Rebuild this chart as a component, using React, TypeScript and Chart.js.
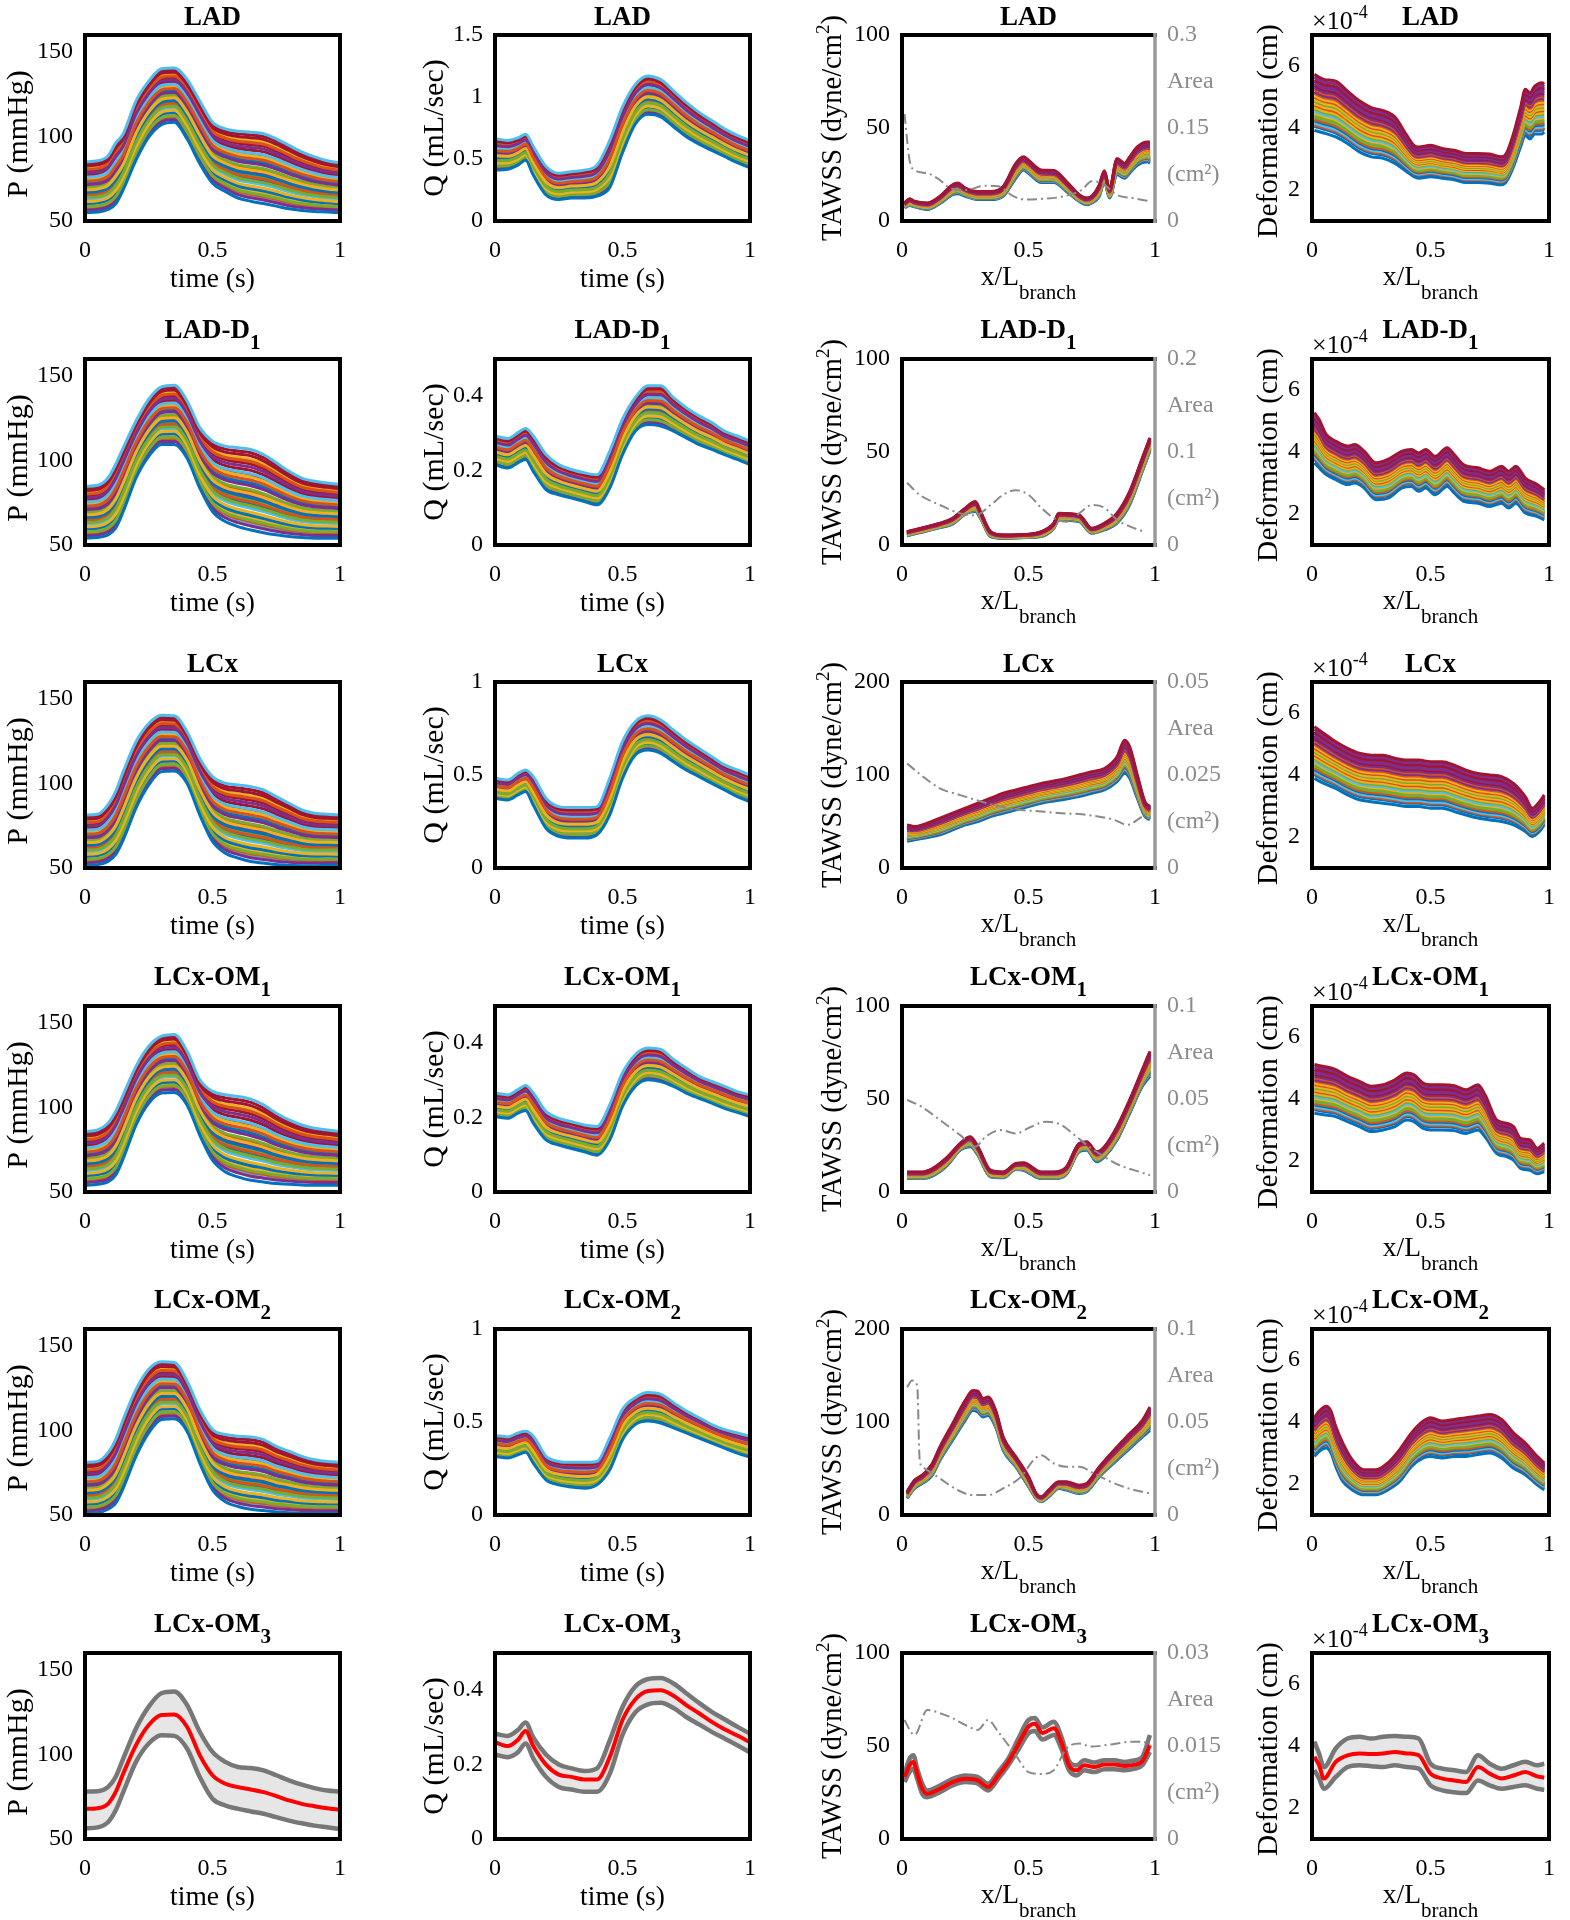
import React, { useEffect, useRef } from 'react';
import { Chart, registerables } from 'chart.js';

Chart.register(...registerables);

const FONT = '"Liberation Serif", "Times New Roman", Times, serif';
const PALETTE = ['#0072BD', '#D95319', '#EDB120', '#7E2F8E', '#77AC30', '#4DBEEE', '#A2142F'];

// ---------- shared grids / tick values ----------
const T = [0, 0.05, 0.09, 0.12, 0.15, 0.2, 0.25, 0.3, 0.35, 0.4, 0.45, 0.5, 0.55, 0.6, 0.65, 0.7, 0.75, 0.8, 0.85, 0.9, 0.95, 1];
const X_TICKS = [0, 0.5, 1];
const P_TICKS = [50, 100, 150];
const D_TICKS = [2, 4, 6];

// ensemble line ordering
const MIXED_LEVELS = [0, 0.62, 0.45, 0.78, 0.3, 1.0, 0.92, 0.4, 0.85, 0.22, 0.55, 0.12, 0.7, 0.82, 0.18, 0.35, 0.66, 0.05, 0.5, 0.27, 0.74, 0.58, 0.1, 0.88, 0.42, 0.2, 0.6, 0.96, 0.33, 0.48, 0.15, 0.86, 0.38, 0.08, 0.68];
const MIXED_COLORS = [0, 1, 2, 3, 4, 5, 6, 0, 1, 2, 3, 4, 5, 6, 0, 1, 2, 3, 4, 5, 6, 0, 1, 2, 3, 4, 5, 6, 0, 1, 2, 3, 4, 5, 6];
const SORTED_LEVELS = [0, 0.07, 0.1, 0.13, 0.17, 0.2, 0.24, 0.27, 0.31, 0.34, 0.38, 0.41, 0.45, 0.48, 0.52, 0.55, 0.59, 0.62, 0.66, 0.69, 0.73, 0.76, 0.8, 0.83, 0.87, 0.9, 0.95, 1];
const SORTED_COLORS = [0, 0, 1, 5, 0, 1, 4, 4, 2, 5, 4, 2, 1, 2, 4, 2, 1, 2, 1, 3, 1, 3, 6, 3, 3, 6, 3, 6];

// ---------- Pressure (mmHg) ----------
const P_LAD_HI = [85, 85.6, 88.5, 96, 101.6, 121, 132.7, 140, 140.5, 133.7, 121, 108.4, 104.5, 103.1, 102.5, 101.6, 98.6, 94.7, 90.9, 87.9, 85.6, 84.4];
const P_LAD_LO = [54.9, 55.3, 56.8, 60, 68.5, 86, 99.6, 107, 108.4, 98.6, 84, 72.4, 67.5, 63.6, 61.7, 60.3, 58.8, 57.2, 56.2, 55.6, 55.3, 54.9];
const P_D1_HI = [84.7, 85.3, 89.6, 97.6, 107.5, 123.3, 136.2, 143.5, 144.5, 135.2, 119.4, 111.4, 108.5, 107.5, 106.5, 103.5, 98.6, 93.6, 89.6, 87.7, 86.7, 85.7];
const P_D1_LO = [54, 54.4, 56, 59.9, 69.8, 89.6, 102.5, 109.5, 109.5, 101.5, 83.7, 69.8, 63.9, 60.9, 58.9, 57.3, 56, 55, 54.4, 54, 54, 54];
const P_LCX_HI = [81.4, 81.8, 87.3, 95.2, 107, 124.7, 135.5, 140.4, 140, 130.6, 114.8, 104, 100.1, 99.1, 98.1, 96.2, 92.2, 88.3, 84.4, 82.4, 81.8, 81.4];
const P_LCX_LO = [51.6, 52, 53.9, 57.9, 66.7, 85.4, 99.1, 107, 107.4, 100.1, 81.4, 65.7, 58.8, 55.9, 53.9, 52.9, 52, 51.6, 51.4, 51.4, 51.6, 51.6];
const P_OM1_HI = [85.7, 86.7, 90.6, 97.6, 107.5, 124.3, 136.2, 142.2, 143.2, 133.3, 116.4, 109.5, 107.5, 106.5, 104.9, 101.5, 96.6, 92.6, 89.6, 87.7, 86.7, 85.7];
const P_OM1_LO = [54, 54.6, 55.9, 59.9, 69.8, 89.6, 102.5, 108.5, 108.9, 101.5, 83.7, 68.8, 61.9, 58.9, 56.9, 55.9, 55, 54.6, 54.2, 54, 54, 54];
const P_OM2_HI = [81.1, 81.7, 86.7, 94.6, 106.5, 124.3, 136.2, 140.6, 140.2, 129.3, 112.4, 100.5, 97.6, 96.6, 96.2, 94.6, 90.6, 87.7, 84.7, 82.7, 81.7, 81.1];
const P_OM2_LO = [51, 51.4, 53.4, 56.9, 65.9, 84.7, 98.6, 106.5, 106.9, 99.6, 80.7, 64.9, 57.9, 55, 53.4, 52.6, 51.8, 51.4, 51, 51, 51, 51];
const P_OM3_UP = [78.1, 78.3, 80.7, 86.7, 97.6, 115.4, 128.3, 136.2, 137.2, 129.3, 113.4, 101.5, 95.6, 92.6, 92, 90.6, 87.7, 84.7, 82.1, 80.1, 78.7, 78.1];
const P_OM3_MEAN = [67.8, 68.2, 70.8, 77.7, 88.7, 105.5, 117.4, 123.3, 123.7, 116.4, 99.6, 87.7, 82.7, 80.7, 79.3, 77.7, 75.4, 72.8, 70.8, 69.4, 68.2, 67.4];
const P_OM3_LOW = [56.3, 56.9, 59.9, 66.8, 77.7, 95.6, 106.5, 111.4, 111, 103.5, 86.7, 73.8, 69.8, 67.8, 66.3, 64.9, 62.9, 60.9, 59.3, 57.9, 56.9, 55.9];

// ---------- Flow (mL/sec) ----------
const Q_LAD_HI = [0.664, 0.65, 0.67, 0.7, 0.6, 0.44, 0.385, 0.398, 0.41, 0.45, 0.65, 0.92, 1.1, 1.17, 1.14, 1.05, 0.956, 0.876, 0.81, 0.743, 0.69, 0.65];
const Q_LAD_LO = [0.41, 0.417, 0.45, 0.49, 0.37, 0.21, 0.173, 0.186, 0.186, 0.2, 0.27, 0.55, 0.78, 0.86, 0.84, 0.76, 0.68, 0.62, 0.57, 0.52, 0.47, 0.43];
const Q_D1_HI = [0.293, 0.286, 0.302, 0.313, 0.293, 0.243, 0.216, 0.203, 0.194, 0.189, 0.252, 0.338, 0.396, 0.428, 0.428, 0.396, 0.369, 0.347, 0.329, 0.306, 0.293, 0.279];
const Q_D1_LO = [0.216, 0.207, 0.221, 0.23, 0.198, 0.149, 0.135, 0.126, 0.117, 0.108, 0.153, 0.243, 0.306, 0.324, 0.32, 0.306, 0.288, 0.27, 0.257, 0.243, 0.23, 0.216];
const Q_LCX_HI = [0.482, 0.473, 0.509, 0.527, 0.491, 0.375, 0.33, 0.325, 0.325, 0.33, 0.482, 0.679, 0.786, 0.818, 0.795, 0.741, 0.688, 0.643, 0.598, 0.554, 0.527, 0.5];
const Q_LCX_LO = [0.375, 0.366, 0.393, 0.411, 0.339, 0.214, 0.17, 0.161, 0.161, 0.179, 0.286, 0.482, 0.607, 0.634, 0.616, 0.571, 0.527, 0.491, 0.455, 0.42, 0.384, 0.357];
const Q_OM1_HI = [0.266, 0.261, 0.275, 0.286, 0.266, 0.216, 0.198, 0.189, 0.18, 0.176, 0.234, 0.32, 0.369, 0.387, 0.383, 0.356, 0.333, 0.311, 0.297, 0.284, 0.27, 0.261];
const Q_OM1_LO = [0.203, 0.198, 0.212, 0.219, 0.185, 0.14, 0.126, 0.117, 0.108, 0.099, 0.14, 0.23, 0.284, 0.302, 0.297, 0.284, 0.266, 0.252, 0.239, 0.225, 0.214, 0.203];
const Q_OM2_HI = [0.427, 0.42, 0.441, 0.45, 0.423, 0.315, 0.288, 0.283, 0.283, 0.288, 0.414, 0.568, 0.631, 0.658, 0.649, 0.604, 0.559, 0.523, 0.486, 0.459, 0.441, 0.423];
const Q_OM2_LO = [0.315, 0.306, 0.324, 0.337, 0.279, 0.189, 0.162, 0.15, 0.144, 0.162, 0.243, 0.405, 0.486, 0.505, 0.495, 0.468, 0.441, 0.414, 0.387, 0.36, 0.333, 0.312];
const Q_OM3_UP = [0.283, 0.277, 0.293, 0.313, 0.273, 0.227, 0.2, 0.19, 0.183, 0.19, 0.265, 0.355, 0.41, 0.43, 0.433, 0.418, 0.392, 0.366, 0.342, 0.322, 0.302, 0.283];
const Q_OM3_MEAN = [0.26, 0.25, 0.267, 0.29, 0.25, 0.2, 0.173, 0.167, 0.16, 0.16, 0.22, 0.32, 0.375, 0.398, 0.4, 0.385, 0.36, 0.338, 0.315, 0.295, 0.278, 0.26];
const Q_OM3_LOW = [0.227, 0.22, 0.233, 0.257, 0.217, 0.167, 0.14, 0.133, 0.127, 0.127, 0.175, 0.28, 0.34, 0.362, 0.366, 0.352, 0.328, 0.308, 0.288, 0.27, 0.252, 0.233];

// ---------- TAWSS (dyne/cm2) and lumen area (cm2) ----------
const W_LAD_X = [0.01, 0.03, 0.05, 0.1, 0.15, 0.2, 0.22, 0.25, 0.3, 0.35, 0.4, 0.45, 0.48, 0.5, 0.55, 0.6, 0.65, 0.7, 0.73, 0.75, 0.78, 0.8, 0.82, 0.85, 0.88, 0.9, 0.93, 0.97, 0.98];
const W_LAD_HI = [9.7, 11.9, 10.6, 9.7, 13.3, 19.5, 20.4, 17.7, 15.9, 15.9, 18.6, 31, 34.5, 32.7, 27.4, 27.1, 21.2, 14.2, 12.4, 13.3, 19.5, 27, 17, 33.6, 31, 34.5, 39.8, 42.5, 42.5];
const W_LAD_LO = [7.1, 8.3, 7.6, 6.2, 9.4, 14.2, 14.7, 13.3, 11.5, 11.5, 13.3, 23, 27.4, 25.7, 20.7, 20.7, 15.9, 10.6, 8.8, 9.7, 13.3, 21.2, 12.4, 24.8, 23, 25.7, 30, 31.9, 31];
const A_LAD_X = [0.01, 0.03, 0.05, 0.1, 0.15, 0.19, 0.25, 0.33, 0.38, 0.44, 0.49, 0.55, 0.63, 0.71, 0.75, 0.79, 0.85, 0.91, 0.98];
const A_LAD = [0.1726, 0.098, 0.082, 0.077, 0.066, 0.053, 0.05, 0.057, 0.056, 0.04, 0.0345, 0.0356, 0.039, 0.05, 0.064, 0.061, 0.042, 0.037, 0.032];

const W_D1_X = [0.02, 0.1, 0.15, 0.2, 0.25, 0.29, 0.31, 0.35, 0.4, 0.5, 0.55, 0.6, 0.62, 0.7, 0.75, 0.8, 0.85, 0.9, 0.95, 0.98];
const W_D1_HI = [7.2, 9.9, 11.7, 14.4, 19.8, 23.4, 18, 7.2, 5.4, 5.8, 7.2, 11.7, 17.1, 16.2, 9, 11.7, 17.1, 28.8, 46.8, 57.7];
const W_D1_LO = [5, 7.6, 9.4, 11.2, 16.6, 18, 14.4, 4.5, 3.6, 4, 4.5, 9, 13.5, 12.6, 6.3, 8.1, 11.7, 21.6, 39.6, 50.5];
const A_D1_X = [0.02, 0.07, 0.15, 0.23, 0.29, 0.35, 0.4, 0.45, 0.5, 0.55, 0.6, 0.65, 0.7, 0.75, 0.8, 0.85, 0.9, 0.96];
const A_D1 = [0.067, 0.054, 0.043, 0.034, 0.032, 0.043, 0.054, 0.059, 0.054, 0.04, 0.029, 0.025, 0.034, 0.043, 0.04, 0.027, 0.02, 0.014];

const W_LCX_X = [0.02, 0.05, 0.1, 0.15, 0.2, 0.25, 0.3, 0.35, 0.4, 0.45, 0.5, 0.55, 0.6, 0.65, 0.7, 0.75, 0.8, 0.85, 0.88, 0.9, 0.93, 0.96, 0.98];
const W_LCX_HI = [46.4, 44.6, 48.2, 53.6, 58.9, 64.3, 69.6, 75, 80.4, 83.9, 87.5, 91, 93.6, 96.4, 100, 103.6, 107, 119.6, 137.5, 130.4, 100, 71.4, 66];
const W_LCX_LO = [28.6, 30.4, 32.9, 35.7, 41, 46.4, 50, 55.4, 58.9, 62.5, 66, 69.6, 72.1, 74.3, 76.8, 80.4, 83.9, 92.9, 101.8, 96.4, 75, 55.4, 51.8];
const A_LCX_X = [0.02, 0.075, 0.15, 0.23, 0.31, 0.39, 0.47, 0.55, 0.63, 0.7, 0.78, 0.84, 0.89, 0.94, 0.98];
const A_LCX = [0.0281, 0.025, 0.0214, 0.0196, 0.0179, 0.0165, 0.0156, 0.0152, 0.0147, 0.0145, 0.0138, 0.0129, 0.0116, 0.0134, 0.0152];

const W_OM1_X = [0.02, 0.08, 0.12, 0.18, 0.23, 0.27, 0.3, 0.35, 0.4, 0.45, 0.48, 0.55, 0.6, 0.65, 0.7, 0.73, 0.77, 0.8, 0.85, 0.9, 0.95, 0.98];
const W_OM1_HI = [10.8, 10.8, 12.6, 18.9, 26.1, 29.7, 24.3, 11.7, 10.8, 15.3, 15.7, 10.8, 10.8, 13.5, 26.1, 27, 21.6, 24.3, 35.1, 49.5, 65.8, 75.7];
const W_OM1_LO = [7.2, 7.2, 8.5, 14.4, 22.5, 24.3, 19.8, 8.1, 7.7, 12.1, 11.7, 7.2, 7.2, 9.5, 21.6, 22.5, 16.2, 18.9, 27.9, 42.3, 56.8, 62.2];
const A_OM1_X = [0.02, 0.075, 0.15, 0.23, 0.29, 0.33, 0.39, 0.45, 0.51, 0.57, 0.63, 0.69, 0.74, 0.8, 0.86, 0.94, 0.98];
const A_OM1 = [0.0495, 0.046, 0.0387, 0.0306, 0.0243, 0.0297, 0.0333, 0.0315, 0.0351, 0.0378, 0.036, 0.0297, 0.0243, 0.0189, 0.0144, 0.0108, 0.009];

const W_OM2_X = [0.02, 0.05, 0.08, 0.1, 0.12, 0.15, 0.2, 0.25, 0.28, 0.3, 0.32, 0.34, 0.37, 0.4, 0.45, 0.5, 0.53, 0.55, 0.58, 0.62, 0.65, 0.7, 0.73, 0.78, 0.85, 0.9, 0.95, 0.98];
const W_OM2_HI = [25, 37.5, 42.9, 48.2, 55.4, 73.2, 98.2, 123.2, 133.9, 133.2, 125, 126.8, 112.5, 83.9, 62.5, 41.1, 23.2, 19.6, 26.8, 35.7, 35.7, 32.1, 33.9, 51.8, 73.2, 87.5, 101.8, 116.1];
const W_OM2_LO = [17.9, 28.6, 33.9, 37.5, 42.9, 58.9, 80.4, 101.8, 112.5, 110.7, 105.4, 107.1, 94.6, 69.6, 51.8, 30.4, 17.9, 14.3, 19.6, 28.6, 26.8, 23.2, 25, 41.1, 58.9, 71.4, 83.9, 91.1];
const A_OM2_X = [0.02, 0.04, 0.06, 0.07, 0.08, 0.1, 0.15, 0.22, 0.28, 0.34, 0.4, 0.47, 0.52, 0.55, 0.6, 0.65, 0.7, 0.76, 0.81, 0.875, 0.93, 0.98];
const A_OM2 = [0.0688, 0.0723, 0.0696, 0.0295, 0.026, 0.0241, 0.0196, 0.0134, 0.0107, 0.0107, 0.0143, 0.0205, 0.0295, 0.0321, 0.0277, 0.0259, 0.0259, 0.0223, 0.0188, 0.0152, 0.013, 0.0116];

const W_OM3_X = [0.01, 0.03, 0.045, 0.06, 0.08, 0.1, 0.15, 0.2, 0.25, 0.3, 0.34, 0.38, 0.42, 0.46, 0.5, 0.525, 0.555, 0.6, 0.63, 0.66, 0.69, 0.72, 0.76, 0.8, 0.84, 0.88, 0.92, 0.95, 0.98];
const W_OM3_UP = [35.1, 43.2, 45, 37.8, 29.7, 26.1, 28.8, 32.4, 34.2, 33.3, 29.7, 36, 43.2, 54, 64, 65, 60, 63, 55, 42, 39.6, 42.3, 41.1, 42.3, 42.3, 41.4, 42.3, 44.1, 55.9];
const W_OM3_MEAN = [33.3, 39.6, 41.4, 35.1, 27, 24.3, 27, 30.6, 32.4, 31.5, 27.9, 34.2, 41.4, 51, 60.4, 62, 57, 59.5, 52, 39.6, 36.9, 39.6, 38.7, 40, 40, 39.3, 40, 41.8, 50.5];
const W_OM3_LOW = [30.6, 36, 37.8, 32.4, 24.3, 22.5, 25.2, 28.8, 30.6, 29.7, 26.1, 32.4, 39.6, 48, 56.8, 58, 53.5, 55.9, 48.5, 37, 34.2, 36.9, 36, 37.5, 37.5, 36.9, 37.8, 39.6, 46.8];
const A_OM3_X = [0.01, 0.035, 0.05, 0.1, 0.15, 0.2, 0.25, 0.3, 0.34, 0.38, 0.45, 0.5, 0.55, 0.6, 0.65, 0.7, 0.75, 0.8, 0.85, 0.9, 0.95, 0.98];
const A_OM3 = [0.0192, 0.0173, 0.0168, 0.0208, 0.0203, 0.0195, 0.0184, 0.0176, 0.0192, 0.0173, 0.0135, 0.0108, 0.0105, 0.0111, 0.0146, 0.0154, 0.0149, 0.0151, 0.0154, 0.0157, 0.0157, 0.0151];

// ---------- Deformation (x1e-4 cm) ----------
const D_LAD_X = [0.01, 0.05, 0.1, 0.15, 0.2, 0.25, 0.3, 0.35, 0.4, 0.43, 0.45, 0.5, 0.55, 0.6, 0.65, 0.7, 0.75, 0.8, 0.82, 0.85, 0.88, 0.9, 0.92, 0.94, 0.97, 0.98];
const D_LAD_HI = [5.73, 5.57, 5.51, 5.19, 4.88, 4.66, 4.56, 4.35, 3.76, 3.44, 3.39, 3.44, 3.34, 3.28, 3.18, 3.18, 3.16, 3.07, 3.18, 3.81, 4.66, 5.25, 5.14, 5.35, 5.46, 5.41];
const D_LAD_LO = [3.92, 3.84, 3.71, 3.5, 3.23, 3.07, 3.02, 2.86, 2.59, 2.43, 2.38, 2.43, 2.38, 2.33, 2.24, 2.24, 2.22, 2.17, 2.27, 2.75, 3.39, 3.76, 3.65, 3.81, 3.81, 3.87];
const D_D1_X = [0.01, 0.03, 0.06, 0.1, 0.15, 0.18, 0.22, 0.27, 0.32, 0.38, 0.42, 0.45, 0.48, 0.52, 0.57, 0.6, 0.64, 0.7, 0.75, 0.8, 0.83, 0.86, 0.9, 0.95, 0.98];
const D_D1_HI = [5.27, 5.05, 4.57, 4.35, 4.19, 4.24, 4.03, 3.65, 3.76, 4.03, 4.08, 3.97, 4.08, 3.86, 4.14, 3.92, 3.59, 3.49, 3.38, 3.54, 3.38, 3.54, 3.16, 2.95, 2.78];
const D_D1_LO = [3.65, 3.49, 3.27, 3.11, 2.95, 3, 2.84, 2.46, 2.51, 2.84, 2.89, 2.73, 2.84, 2.62, 2.89, 2.68, 2.41, 2.35, 2.24, 2.35, 2.19, 2.35, 2.03, 1.92, 1.81];
const D_LCX_X = [0.01, 0.05, 0.1, 0.15, 0.2, 0.25, 0.3, 0.35, 0.4, 0.45, 0.5, 0.55, 0.6, 0.65, 0.7, 0.75, 0.8, 0.85, 0.9, 0.93, 0.96, 0.98];
const D_LCX_HI = [5.56, 5.34, 5.07, 4.86, 4.7, 4.64, 4.64, 4.54, 4.48, 4.48, 4.43, 4.43, 4.32, 4.16, 4.05, 4, 3.95, 3.73, 3.3, 2.93, 3.14, 3.36];
const D_LCX_LO = [3.89, 3.73, 3.57, 3.36, 3.2, 3.14, 3.09, 3.04, 2.98, 2.98, 2.93, 2.93, 2.82, 2.71, 2.61, 2.55, 2.5, 2.39, 2.18, 2.02, 2.18, 2.39];
const D_OM1_X = [0.01, 0.05, 0.1, 0.15, 0.2, 0.25, 0.3, 0.35, 0.4, 0.43, 0.47, 0.5, 0.55, 0.6, 0.65, 0.7, 0.73, 0.78, 0.82, 0.85, 0.88, 0.92, 0.95, 0.98];
const D_OM1_HI = [5.11, 5.05, 4.95, 4.73, 4.57, 4.41, 4.46, 4.62, 4.84, 4.78, 4.51, 4.46, 4.46, 4.43, 4.3, 4.46, 4.14, 3.32, 3.22, 3.11, 2.73, 2.68, 2.41, 2.57];
const D_OM1_LO = [3.54, 3.49, 3.43, 3.27, 3.11, 2.95, 3, 3.11, 3.32, 3.27, 3.05, 3, 3, 2.98, 2.89, 3, 2.78, 2.24, 2.14, 2.03, 1.76, 1.7, 1.59, 1.65];
const D_OM2_X = [0.01, 0.03, 0.06, 0.08, 0.1, 0.13, 0.17, 0.22, 0.27, 0.32, 0.37, 0.42, 0.47, 0.5, 0.55, 0.6, 0.65, 0.7, 0.75, 0.8, 0.85, 0.9, 0.95, 0.98];
const D_OM2_HI = [4.14, 4.35, 4.51, 4.35, 3.86, 3.32, 2.78, 2.46, 2.46, 2.68, 3.11, 3.65, 4.03, 4.14, 4.03, 4.08, 4.14, 4.19, 4.24, 4.08, 3.65, 3.32, 2.89, 2.68];
const D_OM2_LO = [2.89, 3.05, 3.16, 3, 2.57, 2.08, 1.81, 1.65, 1.65, 1.81, 2.08, 2.57, 2.84, 2.89, 2.84, 2.89, 2.89, 2.95, 3, 2.84, 2.51, 2.3, 1.97, 1.81];
const D_OM3_X = [0.01, 0.03, 0.05, 0.1, 0.15, 0.2, 0.25, 0.3, 0.35, 0.4, 0.45, 0.5, 0.55, 0.6, 0.65, 0.7, 0.75, 0.8, 0.85, 0.9, 0.95, 0.98];
const D_OM3_UP = [4.14, 3.76, 3.32, 3.92, 4.24, 4.3, 4.24, 4.3, 4.32, 4.3, 4.24, 3.43, 3.27, 3.22, 3.16, 3.7, 3.43, 3.27, 3.38, 3.49, 3.38, 3.43];
const D_OM3_MEAN = [3.65, 3.38, 2.95, 3.49, 3.7, 3.76, 3.74, 3.76, 3.81, 3.76, 3.7, 3.11, 2.95, 2.89, 2.84, 3.32, 3.11, 2.95, 3.05, 3.16, 3.02, 2.98];
const D_OM3_LOW = [3.22, 2.95, 2.62, 3, 3.32, 3.38, 3.35, 3.32, 3.38, 3.32, 3.27, 2.73, 2.57, 2.51, 2.48, 2.89, 2.73, 2.62, 2.68, 2.73, 2.62, 2.59];

// ---------- per-row axis settings ----------
const ROW_TITLES = [['LAD', ''], ['LAD-D', '1'], ['LCx', ''], ['LCx-OM', '1'], ['LCx-OM', '2'], ['LCx-OM', '3']];
const Q_MAX = [1.5, 0.5, 1, 0.5, 1, 0.5];
const Q_TICKS = [[0, 0.5, 1, 1.5], [0, 0.2, 0.4], [0, 0.5, 1], [0, 0.2, 0.4], [0, 0.5, 1], [0, 0.2, 0.4]];
const W_MAX = [100, 100, 200, 100, 200, 100];
const W_TICKS = [[0, 50, 100], [0, 50, 100], [0, 100, 200], [0, 50, 100], [0, 100, 200], [0, 50, 100]];
const A_MAX = [0.3, 0.2, 0.05, 0.1, 0.1, 0.03];
const A_MID_LABEL = ['0.15', '0.1', '0.025', '0.05', '0.05', '0.015'];
const A_TOP_LABEL = ['0.3', '0.2', '0.05', '0.1', '0.1', '0.03'];

// ---------- layout ----------
const COL_X = [0, 392, 790, 1245];
const COL_W = [392, 398, 455, 325];
const BOX_L = [85, 495, 902, 1312];
const BOX_R = [340, 750, 1155, 1563];
const ROW_PITCH = 323.6;
const BOX_H = 186;
const OVERLAP = 40;

function geom(row, col) {
  const rowTop = Math.round(ROW_PITCH * row);
  const y = row === 0 ? 0 : rowTop - OVERLAP;
  const bottomEdge = row < 5 ? Math.round(ROW_PITCH * (row + 1)) : 1920;
  const h = bottomEdge - y;
  const boxTop = Math.round(35 + ROW_PITCH * row);
  const top = boxTop - y;
  return {
    x: COL_X[col], y, w: COL_W[col], h,
    pad: { left: BOX_L[col] - COL_X[col], right: COL_X[col] + COL_W[col] - BOX_R[col], top, bottom: h - top - BOX_H },
  };
}

function drawSegs(ctx, segs, x, y, align) {
  let total = 0;
  const widths = segs.map((s) => {
    ctx.font = `${s.bold ? 'bold ' : ''}${s.size}px ${FONT}`;
    const w = ctx.measureText(s.t).width;
    total += w;
    return w;
  });
  let cx = align === 'center' ? x - total / 2 : x;
  ctx.textAlign = 'left';
  ctx.textBaseline = 'alphabetic';
  segs.forEach((s, i) => {
    ctx.font = `${s.bold ? 'bold ' : ''}${s.size}px ${FONT}`;
    ctx.fillStyle = s.color || '#000';
    ctx.fillText(s.t, cx, y + (s.dy || 0));
    cx += widths[i];
  });
}

const YLABELS = {
  P: [{ t: 'P (mmHg)', size: 30 }],
  Q: [{ t: 'Q (mL/sec)', size: 30 }],
  W: [{ t: 'TAWSS (dyne/cm', size: 28.5 }, { t: '2', size: 19, dy: -12 }, { t: ')', size: 28.5 }],
  D: [{ t: 'Deformation (cm)', size: 29.5 }],
};
const YOFF = { P: 68, Q: 62, W: 70, D: 45 };
const YSHIFT = { P: 6, Q: 0, W: 0, D: 3 };

function makeDecor(spec) {
  return {
    id: 'decor',
    afterDraw(chart) {
      const { ctx, chartArea: a } = chart;
      ctx.save();
      ctx.lineWidth = 4;
      ctx.lineCap = 'square';
      ctx.strokeStyle = '#000';
      ctx.beginPath();
      ctx.moveTo(a.right, a.top);
      ctx.lineTo(a.left, a.top);
      ctx.lineTo(a.left, a.bottom);
      ctx.lineTo(a.right, a.bottom);
      if (!spec.area) ctx.lineTo(a.right, a.top);
      ctx.stroke();
      if (spec.area) {
        ctx.strokeStyle = '#9a9a9a';
        ctx.lineWidth = 3.5;
        ctx.lineCap = 'butt';
        ctx.beginPath();
        ctx.moveTo(a.right, a.top - 2);
        ctx.lineTo(a.right, a.bottom + 2);
        ctx.stroke();
      }
      const cx = (a.left + a.right) / 2;
      const [main, sub] = ROW_TITLES[spec.row];
      const tsegs = [{ t: main, size: 27, bold: true }];
      if (sub) tsegs.push({ t: sub, size: 21, bold: true, dy: 11 });
      drawSegs(ctx, tsegs, cx, a.top - (sub ? 21 : 10), 'center');
      if (spec.xkind === 'time') {
        drawSegs(ctx, [{ t: 'time (s)', size: 27.5 }], cx, a.bottom + 66, 'center');
      } else {
        drawSegs(ctx, [{ t: 'x/L', size: 27.5 }, { t: 'branch', size: 21, dy: 14 }], cx, a.bottom + 64, 'center');
      }
      if (spec.exp) {
        drawSegs(ctx, [{ t: '\u00d710', size: 26 }, { t: '-4', size: 18, dy: -11 }], a.left, a.top - 6, 'left');
      }
      const segs = YLABELS[spec.kind];
      ctx.translate(a.left - YOFF[spec.kind], (a.top + a.bottom) / 2 + YSHIFT[spec.kind]);
      ctx.rotate(-Math.PI / 2);
      drawSegs(ctx, segs, 0, segs[0].size * 0.33, 'center');
      ctx.restore();
    },
  };
}

const fmt = (v) => String(Number(Number(v).toFixed(4)));

function buildConfig(spec) {
  const g = geom(spec.row, spec.col);
  const datasets = [];
  const line = { pointRadius: 0, fill: false, cubicInterpolationMode: 'monotone' };
  if (spec.area) {
    datasets.push({
      ...line,
      data: spec.area.x.map((xv, i) => ({ x: xv, y: spec.area.y[i] })),
      yAxisID: 'y2', borderColor: '#8a8a8a', borderWidth: 2, borderDash: [10, 4, 2, 4],
    });
  }
  const pts = (arr) => spec.x.map((xv, i) => ({ x: xv, y: arr[i] }));
  if (spec.mid) {
    const base = datasets.length;
    datasets.push({ ...line, data: pts(spec.mid), borderColor: '#ff0000', borderWidth: 4 });
    datasets.push({ ...line, data: pts(spec.hi), borderColor: '#777777', borderWidth: 4.5 });
    datasets.push({ ...line, data: pts(spec.lo), borderColor: '#777777', borderWidth: 4.5, fill: base + 1, backgroundColor: '#e6e6e6' });
  } else {
    const levels = spec.sorted ? SORTED_LEVELS : MIXED_LEVELS;
    const colors = spec.sorted ? SORTED_COLORS : MIXED_COLORS;
    const order = levels.map((_, k) => k);
    if (spec.sorted) order.reverse();
    order.forEach((k) => {
      const f = levels[k];
      datasets.push({
        ...line,
        data: spec.x.map((xv, i) => ({ x: xv, y: spec.lo[i] + f * (spec.hi[i] - spec.lo[i]) })),
        borderColor: PALETTE[colors[k]], borderWidth: 3,
      });
    });
  }
  const tickFont = { family: FONT, size: 24 };
  const noGrid = { display: false, drawTicks: false };
  const scales = {
    x: {
      type: 'linear', min: 0, max: 1,
      afterBuildTicks: (s) => { s.ticks = X_TICKS.map((v) => ({ value: v })); },
      ticks: { font: tickFont, color: '#000', padding: 15, maxRotation: 0, minRotation: 0, autoSkip: false, callback: (v) => fmt(v) },
      grid: noGrid, border: { display: false },
      afterFit: (s) => { s.height = g.pad.bottom; },
    },
    y: {
      type: 'linear', min: spec.ymin, max: spec.ymax,
      afterBuildTicks: (s) => { s.ticks = spec.yticks.map((v) => ({ value: v })); },
      ticks: { font: tickFont, color: '#000', padding: 12, autoSkip: false, callback: (v) => fmt(v) },
      grid: noGrid, border: { display: false },
      afterFit: (s) => { s.width = g.pad.left; },
    },
  };
  if (spec.area) {
    const amax = spec.area.max;
    const labels = ['0', '(cm\u00b2)', spec.area.mid, 'Area', spec.area.top];
    scales.y2 = {
      type: 'linear', position: 'right', min: 0, max: amax,
      afterBuildTicks: (s) => { s.ticks = [0, 0.25, 0.5, 0.75, 1].map((f) => ({ value: f * amax })); },
      ticks: { font: tickFont, color: '#8c8c8c', padding: 12, autoSkip: false, callback: (v, i) => labels[i] },
      grid: noGrid, border: { display: false },
      afterFit: (s) => { s.width = g.pad.right; },
    };
  }
  return {
    type: 'line',
    data: { datasets },
    options: {
      responsive: false, animation: false, devicePixelRatio: 1, events: [],
      layout: { padding: { top: g.pad.top, left: 0, bottom: 0, right: spec.area ? 0 : g.pad.right } },
      plugins: { legend: { display: false }, tooltip: { enabled: false }, title: { display: false } },
      scales,
    },
    plugins: [makeDecor(spec)],
  };
}

function buildSpecs() {
  const specs = [];
  const P = [[P_LAD_LO, P_LAD_HI], [P_D1_LO, P_D1_HI], [P_LCX_LO, P_LCX_HI], [P_OM1_LO, P_OM1_HI], [P_OM2_LO, P_OM2_HI], [P_OM3_LOW, P_OM3_UP, P_OM3_MEAN]];
  const Q = [[Q_LAD_LO, Q_LAD_HI], [Q_D1_LO, Q_D1_HI], [Q_LCX_LO, Q_LCX_HI], [Q_OM1_LO, Q_OM1_HI], [Q_OM2_LO, Q_OM2_HI], [Q_OM3_LOW, Q_OM3_UP, Q_OM3_MEAN]];
  const W = [
    [W_LAD_X, W_LAD_LO, W_LAD_HI, null, A_LAD_X, A_LAD],
    [W_D1_X, W_D1_LO, W_D1_HI, null, A_D1_X, A_D1],
    [W_LCX_X, W_LCX_LO, W_LCX_HI, null, A_LCX_X, A_LCX],
    [W_OM1_X, W_OM1_LO, W_OM1_HI, null, A_OM1_X, A_OM1],
    [W_OM2_X, W_OM2_LO, W_OM2_HI, null, A_OM2_X, A_OM2],
    [W_OM3_X, W_OM3_LOW, W_OM3_UP, W_OM3_MEAN, A_OM3_X, A_OM3],
  ];
  const D = [
    [D_LAD_X, D_LAD_LO, D_LAD_HI, null],
    [D_D1_X, D_D1_LO, D_D1_HI, null],
    [D_LCX_X, D_LCX_LO, D_LCX_HI, null],
    [D_OM1_X, D_OM1_LO, D_OM1_HI, null],
    [D_OM2_X, D_OM2_LO, D_OM2_HI, null],
    [D_OM3_X, D_OM3_LOW, D_OM3_UP, D_OM3_MEAN],
  ];
  for (let r = 0; r < 6; r++) {
    specs.push({ row: r, col: 0, kind: 'P', xkind: 'time', x: T, lo: P[r][0], hi: P[r][1], mid: P[r][2], ymin: 50, ymax: 160, yticks: P_TICKS, sorted: false });
    specs.push({ row: r, col: 1, kind: 'Q', xkind: 'time', x: T, lo: Q[r][0], hi: Q[r][1], mid: Q[r][2], ymin: 0, ymax: Q_MAX[r], yticks: Q_TICKS[r], sorted: false });
    specs.push({
      row: r, col: 2, kind: 'W', xkind: 'xl', x: W[r][0], lo: W[r][1], hi: W[r][2], mid: W[r][3] || undefined,
      ymin: 0, ymax: W_MAX[r], yticks: W_TICKS[r], sorted: true,
      area: { x: W[r][4], y: W[r][5], max: A_MAX[r], mid: A_MID_LABEL[r], top: A_TOP_LABEL[r] },
    });
    specs.push({ row: r, col: 3, kind: 'D', xkind: 'xl', x: D[r][0], lo: D[r][1], hi: D[r][2], mid: D[r][3] || undefined, ymin: 1, ymax: 7, yticks: D_TICKS, sorted: true, exp: true });
  }
  return specs;
}

const SPECS = buildSpecs();

function Panel({ spec }) {
  const ref = useRef(null);
  const g = geom(spec.row, spec.col);
  useEffect(() => {
    const chart = new Chart(ref.current, buildConfig(spec));
    return () => chart.destroy();
  }, [spec]);
  return (
    <canvas
      ref={ref}
      width={g.w}
      height={g.h}
      style={{ position: 'absolute', left: g.x, top: g.y, width: g.w, height: g.h }}
    />
  );
}

export default function App() {
  return (
    <div style={{ position: 'absolute', left: 0, top: 0, width: 1570, height: 1920, background: '#fff', overflow: 'hidden' }}>
      {SPECS.map((s, i) => (
        <Panel key={i} spec={s} />
      ))}
    </div>
  );
}
